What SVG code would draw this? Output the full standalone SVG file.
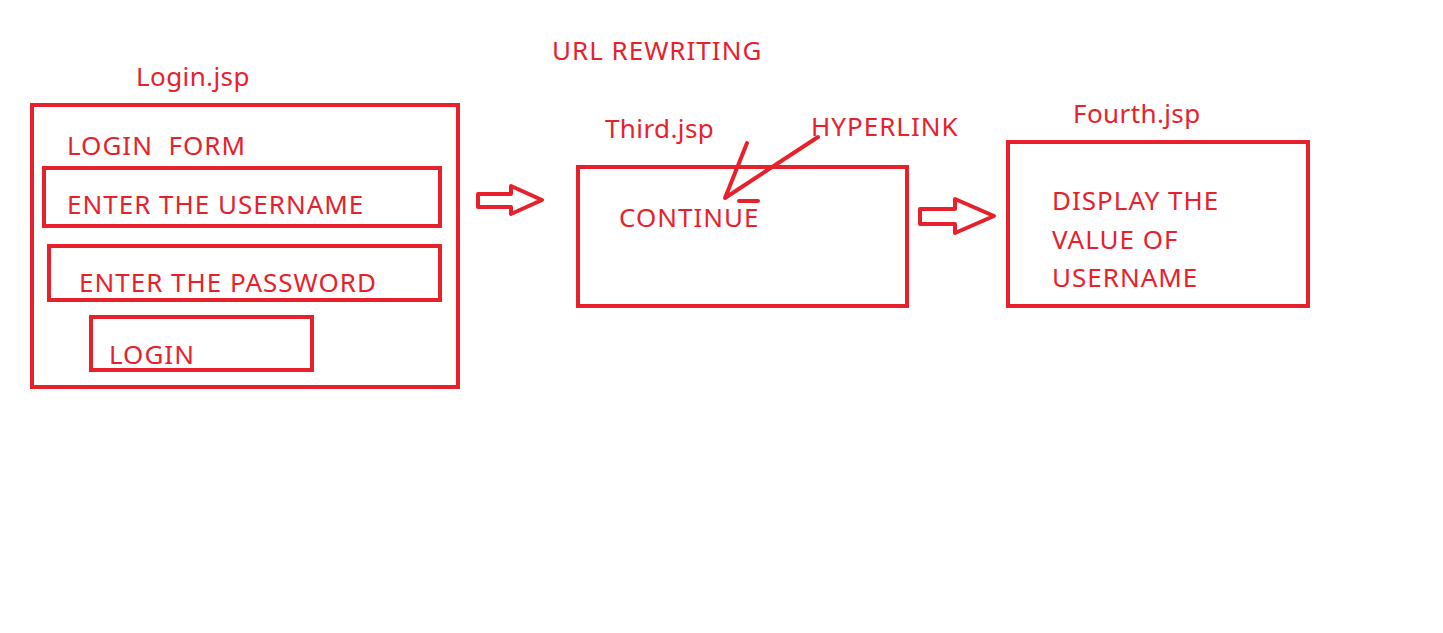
<svg xmlns="http://www.w3.org/2000/svg" width="1443" height="633" viewBox="0 0 1443 633">
<style>
.b{fill:none;stroke:#E7212B;stroke-width:4}
.t{fill:#E7212B;font-family:"Noto Sans","Open Sans",sans-serif;font-size:26px;letter-spacing:1px}
.s{letter-spacing:0.4px}
.l{fill:none;stroke:#E7212B;stroke-width:4;stroke-linecap:round;stroke-linejoin:round}
</style>
<rect width="1443" height="633" fill="#fff"/>
<text class="t" x="552" y="60">URL REWRITING</text>
<g id="login">
<text class="t s" x="136" y="86">Login.jsp</text>
<rect class="b" x="32" y="105" width="426" height="282"/>
<text class="t" x="67" y="155" xml:space="preserve">LOGIN  FORM</text>
<rect class="b" x="44" y="168" width="396" height="58"/>
<text class="t" x="67" y="214">ENTER THE USERNAME</text>
<rect class="b" x="49" y="246" width="391" height="54"/>
<text class="t" x="79" y="292">ENTER THE PASSWORD</text>
<rect class="b" x="91" y="317" width="221" height="53"/>
<text class="t" x="109" y="364">LOGIN</text>
</g>
<g id="third">
<text class="t s" x="605" y="138">Third.jsp</text>
<rect class="b" x="578" y="167" width="329" height="139"/>
<text class="t" x="619" y="227">CONTINUE</text>
</g>
<g id="hyperlink">
<text class="t" x="811" y="136">HYPERLINK</text>
</g>
<g id="fourth">
<text class="t s" x="1073" y="123">Fourth.jsp</text>
<rect class="b" x="1008" y="142" width="300" height="164"/>
<text class="t" x="1052" y="210">DISPLAY THE</text>
<text class="t" x="1052" y="249">VALUE OF</text>
<text class="t" x="1052" y="287">USERNAME</text>
</g>
<g id="connectors">
<path class="l" d="M478 194 H511 V186 L542 200 L511 214 V207 H478 Z"/>
<path class="l" d="M920 209 H955 V199 L994 216 L955 233 V224 H920 Z"/>
<path class="l" d="M747 143 L725 198 L818 137"/>
<path class="l" d="M739 201 H758" stroke-width="3"/>
</g>
</svg>
